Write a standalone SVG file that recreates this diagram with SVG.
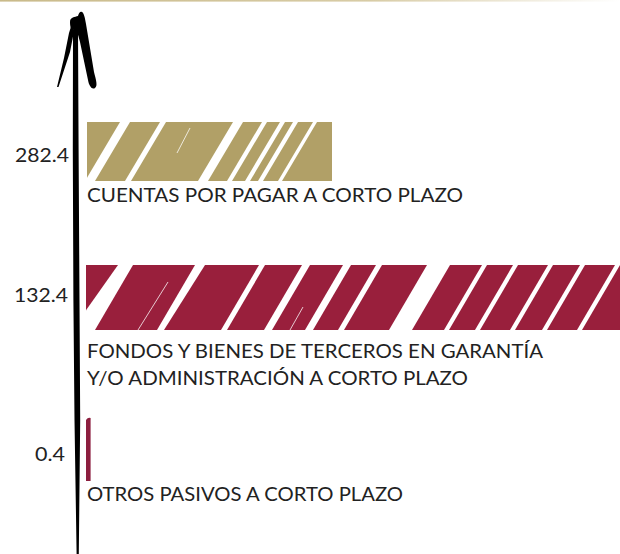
<svg xmlns="http://www.w3.org/2000/svg" width="620" height="554" viewBox="0 0 620 554">
  <defs>
    <linearGradient id="topLine" x1="0" y1="0" x2="1" y2="0">
      <stop offset="0" stop-color="#C9BA8A"/>
      <stop offset="0.6" stop-color="#D8CCA6"/>
      <stop offset="1" stop-color="#FFFFFF"/>
    </linearGradient>
    <clipPath id="clipGold"><rect x="87" y="122" width="245" height="59"/></clipPath>
    <clipPath id="clipMaroon"><rect x="86" y="265" width="534" height="65"/></clipPath>
  </defs>
  <style>
    .lbl { font-family: "Lato", "Liberation Sans", sans-serif; font-size: 20px; fill: #222222; }
    .gap { fill: #FFFFFF; }
    .hair { stroke: #FFFFFF; stroke-width: 0.9; fill: none; opacity: 0.85; }
    .gold { fill: #B1A067; }
    .maroon { fill: #991F3C; }
    .ink { fill: #000000; }
  </style>
  <rect x="0" y="0" width="620" height="554" fill="#FFFFFF"/>
  <rect x="0" y="0" width="620" height="1.6" fill="url(#topLine)"/>

  <g id="connectors">
    <g id="axis">
      <polygon class="ink" points="73,30 78,30 78.6,150 79.5,300 80.2,420 78.8,554 76.6,554 74.5,420 73.4,300 72.8,150"/>
      <path class="ink" d="M57,87 L64,58 L69,33 L71.5,25 L74,24 L73.5,34 L70,52 L58.5,87 Z"/>
      <path class="ink" d="M70,22 C70,17 75,17 78,16 C79,13 80,11 82,12 C84,13 85,18 86,24 L94,72 C96,80 98,86 95,88 C92,90 89,86 88,80 L80,42 C78,34 77,30 74,30 C71,30 70,27 70,22 Z"/>
    </g>
  </g>

  <g id="bar-cuentas">
    <g clip-path="url(#clipGold)">
      <rect class="gold" x="87" y="122" width="245" height="59"/>
      <polygon class="gap" points="120,122 130,122 95,181 85,181"/>
      <polygon class="gap" points="160,122 166,122 131,181 125,181"/>
      <polygon class="gap" points="233,122 243,122 208,181 198,181"/>
      <polygon class="gap" points="262,122 267,122 232,181 227,181"/>
      <polygon class="gap" points="280,122 285,122 250,181 245,181"/>
      <polygon class="gap" points="293,122 298,122 263,181 258,181"/>
      <polygon class="gap" points="313,122 317,122 282,181 278,181"/>
      <line class="hair" x1="160" y1="130" x2="143" y2="156"/>
      <line class="hair" x1="190" y1="128" x2="177" y2="153"/>
    </g>
  </g>
  <g id="label-282">
    <text class="lbl" x="15" y="162" textLength="54" lengthAdjust="spacingAndGlyphs">282.4</text>
  </g>
  <g id="label-cuentas">
    <text class="lbl" x="87" y="202" textLength="376" lengthAdjust="spacingAndGlyphs">CUENTAS POR PAGAR A CORTO PLAZO</text>
  </g>

  <g id="bar-fondos">
    <g clip-path="url(#clipMaroon)">
      <rect class="maroon" x="86" y="265" width="534" height="65"/>
      <polygon class="gap" points="118,265 133,265 95,330 72,330"/>
      <polygon class="gap" points="195,265 205,265 164,330 157,330"/>
      <polygon class="gap" points="259,265 265,265 227,330 221,330"/>
      <polygon class="gap" points="302,265 310,265 272,330 264,330"/>
      <polygon class="gap" points="343,265 351,265 313,330 305,330"/>
      <polygon class="gap" points="376,265 382,265 344,330 338,330"/>
      <polygon class="gap" points="427,265 450,265 412,330 389,330"/>
      <polygon class="gap" points="482,265 487,265 449,330 444,330"/>
      <polygon class="gap" points="513,265 518,265 480,330 475,330"/>
      <polygon class="gap" points="548,265 553,265 515,330 510,330"/>
      <polygon class="gap" points="580,265 585,265 547,330 542,330"/>
      <polygon class="gap" points="615,265 620,265 582,330 577,330"/>
      <line class="hair" x1="168" y1="282" x2="138" y2="330"/>
      <line class="hair" x1="303" y1="307" x2="290" y2="330"/>
    </g>
  </g>
  <g id="label-132">
    <text class="lbl" x="14" y="302" textLength="54" lengthAdjust="spacingAndGlyphs">132.4</text>
  </g>
  <g id="label-fondos">
    <text class="lbl" x="87" y="358" textLength="456" lengthAdjust="spacingAndGlyphs">FONDOS Y BIENES DE TERCEROS EN GARANTÍA</text>
    <text class="lbl" x="87" y="385" textLength="381" lengthAdjust="spacingAndGlyphs">Y/O ADMINISTRACIÓN A CORTO PLAZO</text>
  </g>

  <g id="bar-otros">
    <path d="M86,420 Q88,417 90.6,418 L90.6,481 L86,481 Z" fill="#8C1E3E"/>
  </g>
  <g id="label-04">
    <text class="lbl" x="35" y="461" textLength="30" lengthAdjust="spacingAndGlyphs">0.4</text>
  </g>
  <g id="label-otros">
    <text class="lbl" x="87" y="501" textLength="316" lengthAdjust="spacingAndGlyphs">OTROS PASIVOS A CORTO PLAZO</text>
  </g>
</svg>
